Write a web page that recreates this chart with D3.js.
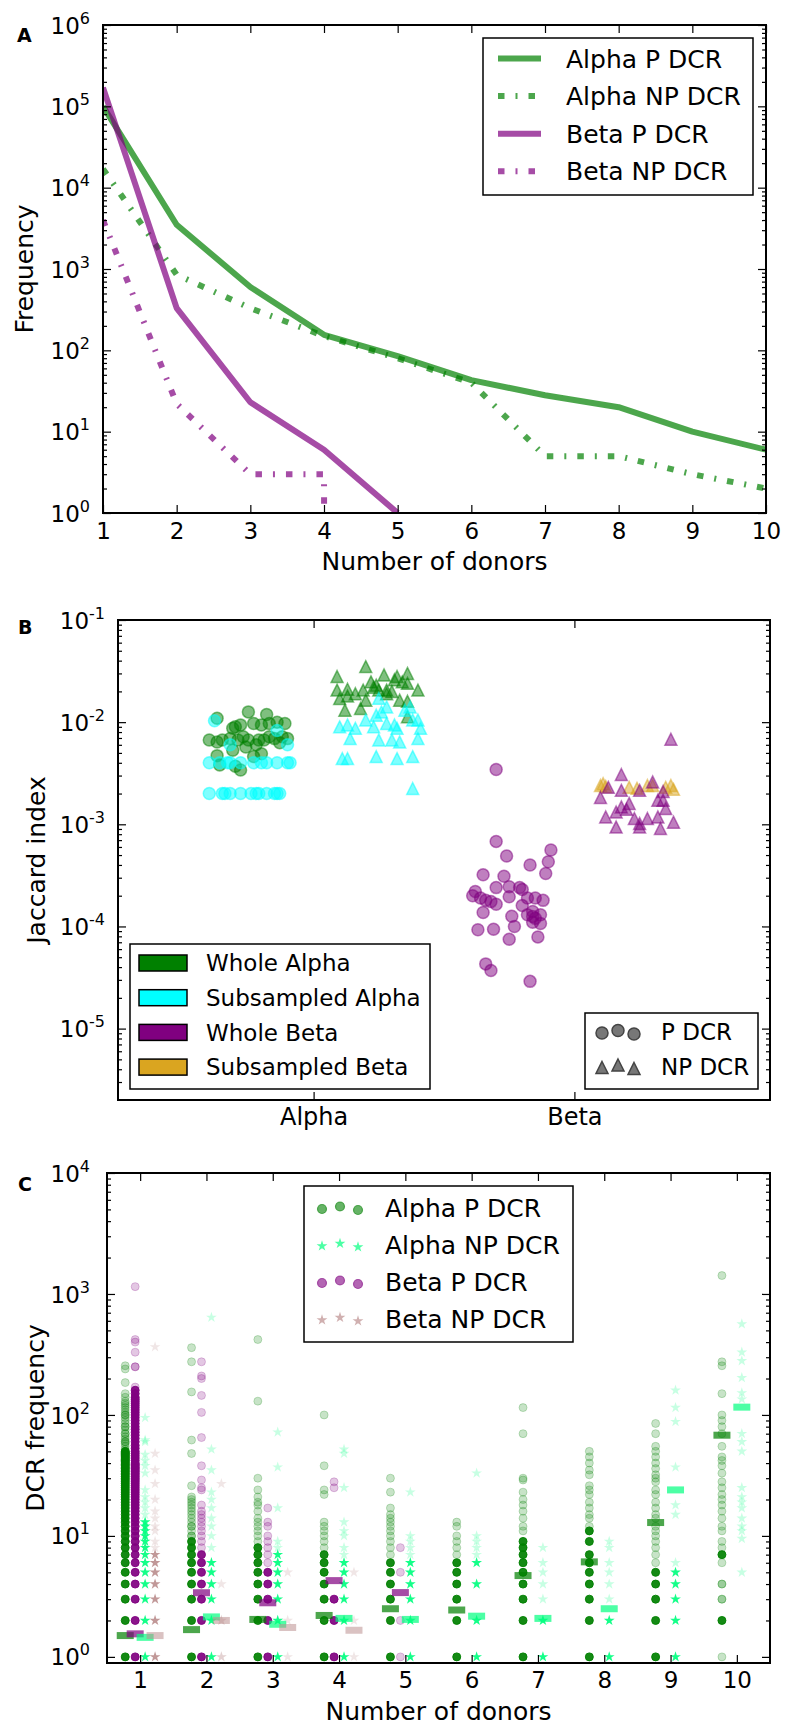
<!DOCTYPE html>
<html>
<head>
<meta charset="utf-8">
<script src="https://cdnjs.cloudflare.com/ajax/libs/d3/7.8.5/d3.min.js"></script>
<style>
body { margin: 0; background: #fff; }
svg { font-family: "DejaVu Sans", sans-serif; }
</style>
</head>
<body>
<svg id="svg" width="787" height="1729"></svg>
<script>

// ---------- Panel A: frequency vs number of donors
const donors = [1, 2, 3, 4, 5, 6, 7, 8, 9, 10];
const alphaPFreq = [100000, 3500, 600, 155, 85, 43, 28, 20, 10, 6];
const alphaNPFreq = [17000, 850, 330, 150, 80, 40, 5, 5, 3, 2];
const betaPFreq = [170000, 330, 23, 6, 1];
const betaNPFreq = [4000, 22, 3, 3, 0];
const lineLabels = ["Alpha P DCR", "Alpha NP DCR", "Beta P DCR", "Beta NP DCR"];

// ---------- Panel B: Jaccard index, [offset from category, value]
const jaccardCats = ["Alpha", "Beta"];
const wholeAlphaP = [[-0.37,0.0109],[-0.40,0.0067],[-0.37,0.0064],[-0.37,0.0047],[-0.36,0.0038],[-0.31,0.0087],[-0.30,0.0090],[-0.28,0.0094],[-0.25,0.0126],[-0.25,0.0067],[-0.27,0.0072],[-0.26,0.0057],[-0.23,0.0097],[-0.21,0.0067],[-0.19,0.0067],[-0.18,0.0119],[-0.20,0.0094],[-0.17,0.0097],[-0.14,0.0100],[-0.11,0.0097],[-0.15,0.0069],[-0.12,0.0072],[-0.10,0.0069],[-0.31,0.0053],[-0.30,0.0037],[-0.20,0.0049],[-0.23,0.0046],[-0.29,0.0067],[-0.32,0.0069],[-0.35,0.0067],[-0.17,0.0072],[-0.28,0.0034],[-0.22,0.0060],[-0.13,0.0063]];
const subAlphaP = [[-0.40,0.0020],[-0.35,0.0020],[-0.34,0.0020],[-0.32,0.0020],[-0.28,0.0020],[-0.24,0.0020],[-0.22,0.0020],[-0.21,0.0020],[-0.18,0.0020],[-0.15,0.0020],[-0.14,0.0020],[-0.13,0.0020],[-0.40,0.0040],[-0.36,0.0040],[-0.33,0.0040],[-0.32,0.0040],[-0.28,0.0040],[-0.23,0.0040],[-0.20,0.0040],[-0.18,0.0040],[-0.14,0.0040],[-0.10,0.0040],[-0.09,0.0040],[-0.38,0.0103],[-0.32,0.0060],[-0.14,0.0083],[-0.10,0.0060]];
const wholeAlphaNP = [[0.09,0.028],[0.20,0.035],[0.27,0.029],[0.32,0.028],[0.36,0.030],[0.09,0.0206],[0.13,0.021],[0.10,0.017],[0.13,0.018],[0.16,0.019],[0.19,0.0206],[0.22,0.0248],[0.23,0.022],[0.25,0.0206],[0.28,0.0206],[0.30,0.020],[0.34,0.0248],[0.36,0.024],[0.40,0.0206],[0.12,0.0131],[0.18,0.0136],[0.20,0.0164],[0.28,0.019],[0.33,0.0164],[0.36,0.016],[0.36,0.0113],[0.31,0.026],[0.24,0.023]];
const subAlphaNP = [[0.10,0.0090],[0.13,0.0094],[0.16,0.0087],[0.14,0.0069],[0.13,0.0044],[0.11,0.0044],[0.20,0.0105],[0.23,0.0090],[0.25,0.0067],[0.24,0.0046],[0.25,0.0171],[0.26,0.0126],[0.28,0.0097],[0.31,0.0094],[0.30,0.0067],[0.32,0.0087],[0.33,0.0064],[0.32,0.0044],[0.35,0.0131],[0.37,0.0141],[0.38,0.0105],[0.40,0.0105],[0.41,0.0087],[0.40,0.0069],[0.38,0.0046],[0.38,0.00224],[0.24,0.0117],[0.28,0.0141]];
const wholeBetaP = [[-0.30,0.00344],[-0.30,6.8e-4],[-0.26,4.9e-4],[-0.17,4.0e-4],[-0.10,4.3e-4],[-0.09,5.6e-4],[-0.11,3.3e-4],[-0.35,3.2e-4],[-0.27,3.1e-4],[-0.38,2.2e-4],[-0.39,2.0e-4],[-0.36,1.9e-4],[-0.34,1.8e-4],[-0.32,1.75e-4],[-0.30,1.65e-4],[-0.30,2.4e-4],[-0.25,2.45e-4],[-0.25,1.95e-4],[-0.21,2.4e-4],[-0.20,2.3e-4],[-0.18,1.9e-4],[-0.15,1.9e-4],[-0.12,1.8e-4],[-0.20,1.6e-4],[-0.35,1.37e-4],[-0.24,1.26e-4],[-0.18,1.3e-4],[-0.16,1.25e-4],[-0.13,1.3e-4],[-0.16,1.1e-4],[-0.13,1.07e-4],[-0.23,1.0e-4],[-0.37,9.3e-5],[-0.31,9.4e-5],[-0.25,7.5e-5],[-0.14,7.9e-5],[-0.34,4.3e-5],[-0.32,3.7e-5],[-0.17,2.9e-5],[-0.15,1.2e-4],[-0.16,1.4e-4]];
const subBetaP = [];
const wholeBetaNP = [[0.37,6.8e-3],[0.18,3.07e-3],[0.10,1.83e-3],[0.18,2.15e-3],[0.21,1.6e-3],[0.18,1.48e-3],[0.16,1.32e-3],[0.12,1.18e-3],[0.16,9.4e-4],[0.23,1.14e-3],[0.25,1.02e-3],[0.28,1.14e-3],[0.30,2.6e-3],[0.32,1.72e-3],[0.34,1.72e-3],[0.35,1.43e-3],[0.32,1.18e-3],[0.33,9.1e-4],[0.38,1.05e-3],[0.25,9.4e-4],[0.25,2.15e-3],[0.13,2.3e-3],[0.34,2.1e-3],[0.20,1.4e-3]];
const subBetaNP = [[0.10,2.4e-3],[0.12,2.35e-3],[0.21,2.3e-3],[0.24,2.25e-3],[0.28,2.4e-3],[0.30,2.4e-3],[0.35,2.3e-3],[0.37,2.4e-3],[0.38,2.2e-3],[0.11,2.5e-3]];
const jaccardLegend = ["Whole Alpha", "Subsampled Alpha", "Whole Beta", "Subsampled Beta"];
const shapeLegend = ["P DCR", "NP DCR"];

// ---------- Panel C: DCR frequency per number of donors
// "Many" = values shared by many DCRs, "Few" = values seen once or twice
const alphaPMany = [
  [1,2,3,4,5,6,7,8,9,10,11,12,13,14,15,16,17,18,19,20,21,22,23,24,25,26,27,28,29,30,31,32,33,34,35,36,37,38,39,40,41,42,43,44,45,46,47,48,49,50],
  [1,2,3,4,5,6,7,8,9], [1,2,3,4,5,6,7,8], [1,2,3,4,5,6,7], [1,2,3,4,5,6], [1,2,3,4,5,6],
  [1,2,3,4,5,6,7,8,9], [1,2,3,4,5,6,7,9,11], [1,2,3,4,5], [2,7]
];
const alphaPFew = [
  [52,55,58,60,60,63,66,70,70,75,80,80,85,90,95,100,100,105,110,115,120,125,130,140,150,185,240,255],
  [10,10,11,12,12,13,14,15,16,17,18,19,20,21,26,48,62,155,275,360],
  [9,10,11,12,13,14,16,18,19,21,24,30,130,420],
  [8,9,10,11,12,13,22,24,38,100],
  [7,8,9,10,11,12,13,14,15,17,23,30],
  [7,8,9,10,12,13],
  [11,12,14,16,18,20,23,29,30,70,115],
  [12,14,15,17,19,22,24,26,32,35,40,45,50],
  [6,7,8,9,10,11,12,14,15,17,19,22,24,28,30,32,36,40,45,50,55,70,85],
  [1,3,3,4,4,6,8,9,11,12,14,16,18,20,22,25,28,33,38,42,45,55,70,80,90,100,150,255,275,1420]
];
const betaPMany = [
  [1,2,3,4,5,6,7,8,9,10,11,12,13,14,15,16,17,18,19,20,21,22,23,24,25,26,27,28,29,30,31,32,33,34,35,36,37,38,39,40,42,44,46,48,50,53,56,60,64,68,72,76,80,85,90,95,100,105,110,115,120,125,130,135,140,150,160],
  [1,2,3,4,5,6,7], [1,2,3,4,5], [1,2,3], [], [], [], [], [], []
];
const betaPFew = [
  [170,250,250,330,400,420,1150],
  [8,9,10,11,12,13,14,15,16,18,24,25,29,38,65,105,145,200,210,275],
  [6,7,8,9,10,12,13,17], [25,28], [1,2,5,8], [], [], [], [], []
];
const alphaNPMany = [
  [1,2,3,4,5,6,7,8,9,10,11,12,13], [1,2,3,4,5,6], [1,2,3,4,5,6,7], [1,2,3,4,5,6], [1,2,3,4,5,6],
  [1,2,4,6], [1,2], [1,2], [1,2,3,4,5], []
];
const alphaNPFew = [
  [15,17,19,21,24,33,38,42,47,60,62,95],
  [8,10,12,14,17,20,23,35,52,640],
  [8,9,17,37,72],
  [7,8,10,11,13,25,48,52],
  [7,8,9,10,23],
  [7,8,9,10,33],
  [3,4,5,6,8],
  [3,4,5,6,8,9],
  [6,15,18,37,88,115,160],
  [5,9.5,11,12,14,17,19,21,25,50,60,70,135,152,203,280,330,565]
];
const betaNPMany = [[1,2,3,4,5,6,7], [], [], [], [], [], [], [], [], []];
const betaNPFew = [[8,9,11,12,14,16,20,27,35,48,365], [1,1,2,2,4,27], [1,2,5], [1,2,5], [], [], [], [], [], []];
const alphaPMedian = [1.5, 1.68, 2.04, 2.2, 2.5, 2.44, 4.7, 6.1, 12.9, 68];
const betaPMedian = [1.55, 3.39, 2.8, 4.27, 3.4, null, null, null, null, null];
const alphaNPMedian = [1.45, 2.14, 1.86, 2.08, 2.04, 2.17, 2.08, 2.5, 24, 116];
const betaNPMedian = [1.5, 2.0, 1.75, 1.66, null, null, null, null, null, null];


const svg = d3.select("#svg");

// ---------- helpers
function decades(lo, hi) {
    const out = [];
    for (let e = Math.ceil(Math.log10(lo) - 1e-9); e <= Math.floor(Math.log10(hi) + 1e-9); e++) out.push(Math.pow(10, e));
    return out;
}
function minorsOf(lo, hi) {
    const out = [];
    for (let e = Math.floor(Math.log10(lo)); e <= Math.ceil(Math.log10(hi)); e++)
        for (let m = 2; m <= 9; m++) {
            const v = m * Math.pow(10, e);
            if (v > lo * 1.0001 && v < hi * 0.9999) out.push(v);
        }
    return out;
}
function styleAxis(a, fs) {
    a.attr("font-family", null).attr("font-size", fs);
    a.select(".domain").remove();
    a.selectAll(".tick line").attr("stroke", "#000").attr("stroke-width", 1.2);
    a.selectAll(".tick text").attr("fill", "#000");
    return a;
}
function yLogAxes(g, y, x0, x1, pad) {
    const [lo, hi] = y.domain();
    const majors = decades(lo, hi), minors = minorsOf(lo, hi);
    styleAxis(g.append("g").attr("transform", `translate(${x0},0)`)
        .call(d3.axisLeft(y).tickValues(minors).tickSize(-4).tickFormat("")), 23);
    styleAxis(g.append("g").attr("transform", `translate(${x1},0)`)
        .call(d3.axisRight(y).tickValues(minors).tickSize(-4).tickFormat("")), 23);
    styleAxis(g.append("g").attr("transform", `translate(${x1},0)`)
        .call(d3.axisRight(y).tickValues(majors).tickSize(-8).tickFormat("")), 23);
    const left = styleAxis(g.append("g").attr("transform", `translate(${x0},0)`)
        .call(d3.axisLeft(y).tickValues(majors).tickSize(-8).tickPadding(pad)), 23);
    left.selectAll(".tick text").each(function(d) {
        const t = d3.select(this);
        const e = Math.round(Math.log10(d));
        t.text(null).attr("dy", "0.35em");
        t.append("tspan").text("10");
        t.append("tspan").attr("dy", -10).attr("font-size", 16).text(e);
    });
}
function xAxes(g, x, y0, y1, ticks, fmt, pad, fs) {
    styleAxis(g.append("g").attr("transform", `translate(0,${y0})`)
        .call(d3.axisTop(x).tickValues(ticks).tickSize(-8).tickFormat("")), fs);
    styleAxis(g.append("g").attr("transform", `translate(0,${y1})`)
        .call(d3.axisBottom(x).tickValues(ticks).tickSize(-8).tickPadding(pad).tickFormat(fmt)), fs);
}
function frame(g, x, y) {
    const [x0, x1] = x.range(), [y1, y0] = y.range();
    g.append("rect").attr("x", x0).attr("y", y0).attr("width", x1 - x0).attr("height", y1 - y0)
        .attr("fill", "none").attr("stroke", "#000").attr("stroke-width", 2);
}
function label(g, x, y, s, size, rotate, weight) {
    const t = g.append("text").attr("font-size", size).attr("text-anchor", rotate ? "middle" : "start")
        .attr("transform", `translate(${x},${y})` + (rotate ? " rotate(-90)" : "")).text(s);
    if (weight) t.attr("font-weight", weight);
    return t;
}
const triPath = r => `M0,${-r}L${r},${r}L${-r},${r}Z`;


// ================= Panel A =================
const gA = svg.append("g");
const ax = d3.scaleLinear().domain([1, 10]).range([103, 766]);
const ay = d3.scaleLog().domain([1, 1e6]).range([513, 25]);

gA.append("clipPath").attr("id", "clipA").append("rect")
    .attr("x", 103).attr("y", 25).attr("width", 663).attr("height", 488);

const dashDot = "6.5,11,2,11";
const linesA = [
    { vals: alphaPFreq, color: "green", dash: null },
    { vals: alphaNPFreq, color: "green", dash: dashDot },
    { vals: betaPFreq, color: "purple", dash: null },
    { vals: betaNPFreq, color: "purple", dash: dashDot }
];
const lineA = d3.line()
    .x((d, i) => ax(donors[i]))
    .y(d => ay(d > 0 ? d : 1e-300));   // zero counts fall off the log axis

gA.append("g").attr("clip-path", "url(#clipA)")
    .selectAll("path").data(linesA).enter().append("path")
    .attr("d", d => lineA(d.vals))
    .attr("fill", "none")
    .attr("stroke", d => d.color)
    .attr("stroke-opacity", 0.7)
    .attr("stroke-width", 6)
    .attr("stroke-linejoin", "round")
    .attr("stroke-dasharray", d => d.dash);

yLogAxes(gA, ay, 103, 766, 13);
xAxes(gA, ax, 25, 513, donors, d3.format("d"), 10, 23);
frame(gA, ax, ay);

// legend A
gA.append("rect").attr("x", 483).attr("y", 38).attr("width", 270).attr("height", 157)
    .attr("fill", "#fff").attr("stroke", "#000").attr("stroke-width", 1.5);
linesA.forEach((s, i) => {
    const yy = 58.5 + i * 37.6;
    gA.append("line").attr("x1", 498).attr("x2", 541).attr("y1", yy).attr("y2", yy)
        .attr("stroke", s.color).attr("stroke-opacity", 0.7).attr("stroke-width", 6)
        .attr("stroke-dasharray", s.dash);
    gA.append("text").attr("x", 566).attr("y", yy).attr("dy", "0.36em")
        .attr("font-size", 25).text(lineLabels[i]);
});

label(gA, 434.5, 570, "Number of donors", 25).attr("text-anchor", "middle");
label(gA, 33, 269, "Frequency", 25, true);
label(gA, 17, 42, "A", 19, false, "bold");


// ================= Panel B =================
const gB = svg.append("g");
const bx = d3.scaleLinear().domain([0.25, 2.75]).range([118, 770]);
const by = d3.scaleLog().domain([2e-6, 0.1]).range([1100, 620]);

const groupsB = [
    { pts: wholeAlphaP, cat: 1, color: "green", shape: "o" },
    { pts: subAlphaP, cat: 1, color: "cyan", shape: "o" },
    { pts: wholeAlphaNP, cat: 1, color: "green", shape: "^" },
    { pts: subAlphaNP, cat: 1, color: "cyan", shape: "^" },
    { pts: subBetaP, cat: 2, color: "goldenrod", shape: "o" },
    { pts: subBetaNP, cat: 2, color: "goldenrod", shape: "^" },
    { pts: wholeBetaP, cat: 2, color: "purple", shape: "o" },
    { pts: wholeBetaNP, cat: 2, color: "purple", shape: "^" }
];
groupsB.forEach(grp => {
    const sel = gB.append("g").selectAll("path").data(grp.pts).enter();
    const m = grp.shape === "o"
        ? sel.append("circle").attr("r", 6)
            .attr("cx", d => bx(grp.cat + d[0])).attr("cy", d => by(d[1]))
        : sel.append("path").attr("d", triPath(6))
            .attr("transform", d => `translate(${bx(grp.cat + d[0])},${by(d[1])})`);
    m.attr("fill", grp.color).attr("fill-opacity", 0.5)
        .attr("stroke", grp.color).attr("stroke-opacity", 0.5).attr("stroke-width", 1.5);
});

yLogAxes(gB, by, 118, 770, 13);
xAxes(gB, bx, 620, 1100, [1, 2], d => jaccardCats[d - 1], 8, 24);
frame(gB, bx, by);

// legend B colours
const legColors = ["green", "cyan", "purple", "goldenrod"];
gB.append("rect").attr("x", 130).attr("y", 944).attr("width", 300).attr("height", 145)
    .attr("fill", "#fff").attr("stroke", "#000").attr("stroke-width", 1.5);
jaccardLegend.forEach((s, i) => {
    const yy = 963 + i * 34.7;
    gB.append("rect").attr("x", 139).attr("y", yy - 8).attr("width", 48).attr("height", 16)
        .attr("fill", legColors[i]).attr("stroke", "#000").attr("stroke-width", 1.5);
    gB.append("text").attr("x", 206).attr("y", yy).attr("dy", "0.36em").attr("font-size", 23).text(s);
});
// legend B shapes
gB.append("rect").attr("x", 585).attr("y", 1013).attr("width", 173).attr("height", 76)
    .attr("fill", "#fff").attr("stroke", "#000").attr("stroke-width", 1.5);
const legOffsets = [1, -1.5, 2];
shapeLegend.forEach((s, i) => {
    const yy = 1032 + i * 34.5;
    [602, 618, 634].forEach((xx, k) => {
        const m = i === 0
            ? gB.append("circle").attr("cx", xx).attr("cy", yy + legOffsets[k]).attr("r", 6)
            : gB.append("path").attr("d", triPath(6)).attr("transform", `translate(${xx},${yy + legOffsets[k]})`);
        m.attr("fill", "#777").attr("stroke", "#444").attr("stroke-width", 1.5);
    });
    gB.append("text").attr("x", 661).attr("y", yy).attr("dy", "0.36em").attr("font-size", 23).text(s);
});

label(gB, 45, 860, "Jaccard index", 25, true);
label(gB, 18, 634, "B", 19, false, "bold");


// ================= Panel C =================
const gC = svg.append("g");
const cx = d3.scaleLinear().domain([0.5, 10.5]).range([107, 770]);
const cy = d3.scaleLog().domain([0.89, 1e4]).range([1663, 1173]);

const seriesC = [
    { name: lineLabels[0], many: alphaPMany, few: alphaPFew, med: alphaPMedian, off: -0.225, color: "green", shape: "o", medOp: 0.7 },
    { name: lineLabels[2], many: betaPMany, few: betaPFew, med: betaPMedian, off: -0.075, color: "purple", shape: "o", medOp: 0.7 },
    { name: lineLabels[1], many: alphaNPMany, few: alphaNPFew, med: alphaNPMedian, off: 0.075, color: "springgreen", shape: "*", medOp: 0.7 },
    { name: lineLabels[3], many: betaNPMany, few: betaNPFew, med: betaNPMedian, off: 0.225, color: "rosybrown", shape: "*", medOp: 0.55 }
];
const star = d3.symbol().type(d3.symbolStar).size(36);

function drawPoints(s, lists, op) {
    const pts = [];
    lists.forEach((vals, gi) => vals.forEach(v => pts.push([donors[gi] + s.off, v])));
    const sel = gC.append("g").selectAll("x").data(pts).enter();
    if (s.shape === "o") {
        sel.append("circle").attr("r", 4)
            .attr("cx", d => cx(d[0])).attr("cy", d => cy(d[1]))
            .attr("fill", s.color).attr("fill-opacity", op)
            .attr("stroke", s.color).attr("stroke-opacity", op).attr("stroke-width", 1);
    } else {
        sel.append("path").attr("d", star)
            .attr("transform", d => `translate(${cx(d[0])},${cy(d[1])})`)
            .attr("fill", s.color).attr("fill-opacity", op);
    }
}
seriesC.forEach(s => {
    drawPoints(s, s.few, 0.22);
    drawPoints(s, s.many, 0.92);
});
seriesC.forEach(s => {
    const meds = s.med.map((v, gi) => [donors[gi] + s.off, v]).filter(d => d[1] != null);
    gC.append("g").selectAll("rect").data(meds).enter().append("rect")
        .attr("x", d => cx(d[0]) - 8.5).attr("y", d => cy(d[1]) - 3.5)
        .attr("width", 17).attr("height", 7)
        .attr("fill", s.color).attr("fill-opacity", s.medOp);
});

yLogAxes(gC, cy, 107, 770, 17);
xAxes(gC, cx, 1173, 1663, donors, d3.format("d"), 9, 23);
frame(gC, cx, cy);

// legend C (Alpha P, Alpha NP, Beta P, Beta NP)
gC.append("rect").attr("x", 304).attr("y", 1186).attr("width", 269).attr("height", 156)
    .attr("fill", "#fff").attr("stroke", "#000").attr("stroke-width", 1.5);
[seriesC[0], seriesC[2], seriesC[1], seriesC[3]].forEach((s, i) => {
    const yy = 1208 + i * 37;
    [322, 340, 358].forEach((xx, k) => {
        if (s.shape === "o") {
            gC.append("circle").attr("cx", xx).attr("cy", yy + legOffsets[k]).attr("r", 4.5)
                .attr("fill", s.color).attr("fill-opacity", 0.6)
                .attr("stroke", s.color).attr("stroke-opacity", 0.6).attr("stroke-width", 1.2);
        } else {
            gC.append("path").attr("d", star)
                .attr("transform", `translate(${xx},${yy + legOffsets[k]})`)
                .attr("fill", s.color).attr("fill-opacity", 0.7);
        }
    });
    gC.append("text").attr("x", 385).attr("y", yy).attr("dy", "0.36em").attr("font-size", 25).text(s.name);
});

label(gC, 438.5, 1720, "Number of donors", 25).attr("text-anchor", "middle");
label(gC, 44, 1418, "DCR frequency", 25, true);
label(gC, 18, 1191, "C", 19, false, "bold");

</script>
</body>
</html>
